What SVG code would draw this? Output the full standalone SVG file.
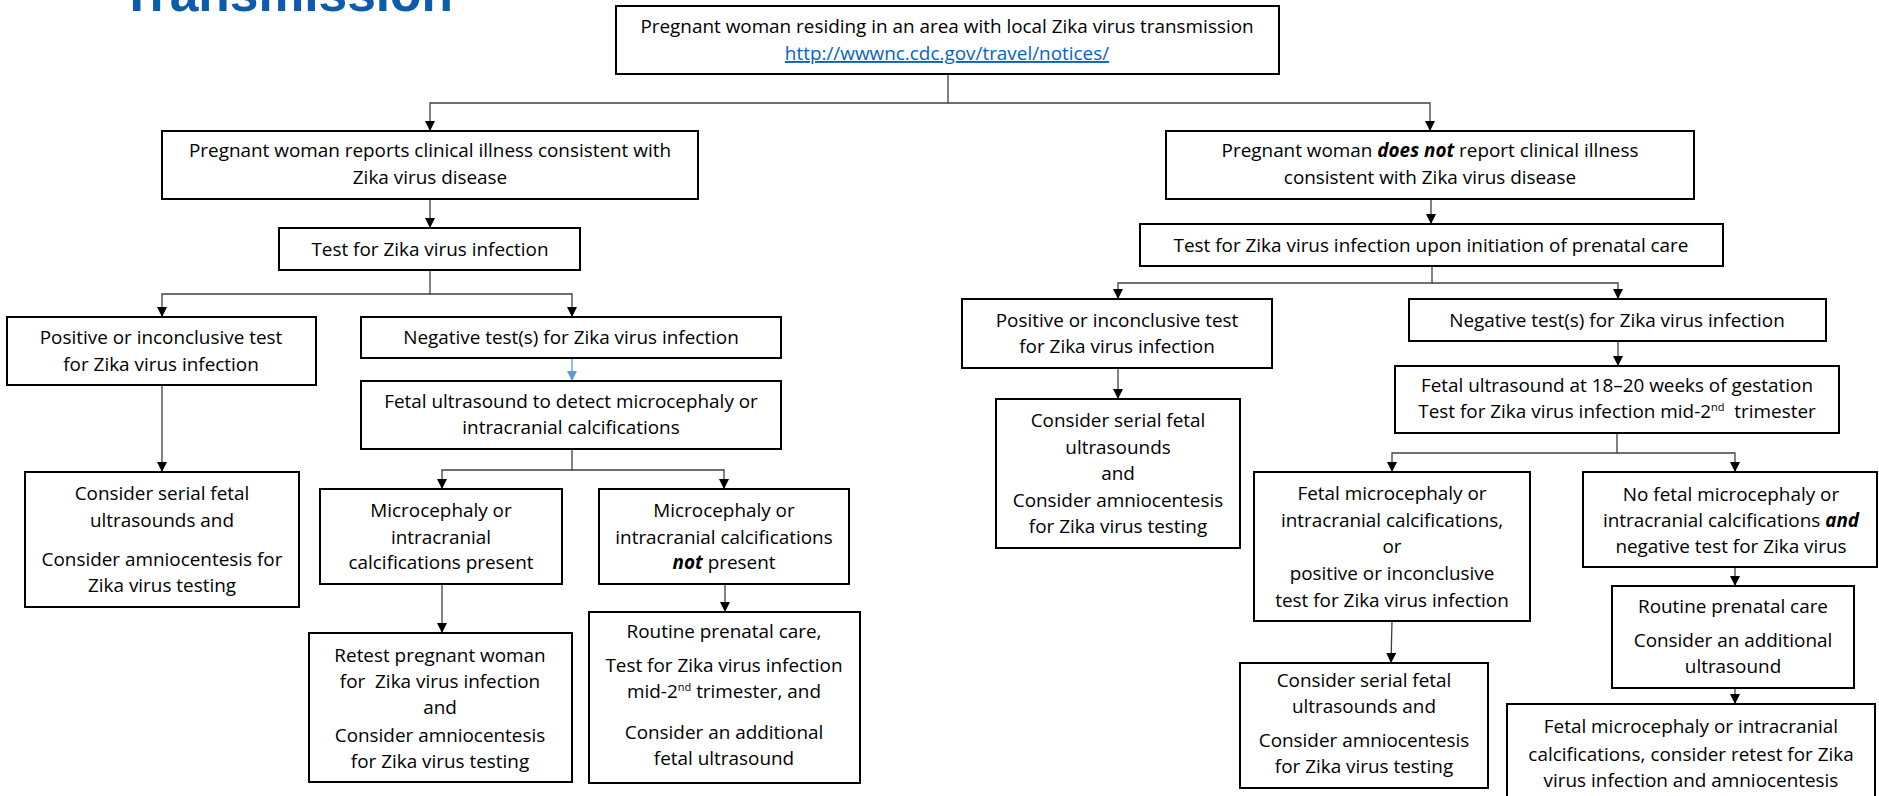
<svg xmlns="http://www.w3.org/2000/svg" width="1879" height="796" viewBox="0 0 1879 796">
<style>
.bx{fill:#fff;stroke:#000;stroke-width:2}
.t{font-family:"Open Sans","Liberation Sans",sans-serif;font-size:18.9px;fill:#000;text-anchor:middle}
.bi{font-weight:bold;font-style:italic}
.c{fill:none;stroke:#404040;stroke-width:1.3}
.sup{font-size:11px}
</style>
<defs>
<marker id="ah" markerUnits="userSpaceOnUse" markerWidth="10" markerHeight="10" refX="10" refY="5" orient="auto" viewBox="0 0 10 10"><path d="M0,0 L10,5 L0,10 z" fill="#000"/></marker>
<marker id="ahb" markerUnits="userSpaceOnUse" markerWidth="10" markerHeight="10" refX="10" refY="5" orient="auto" viewBox="0 0 10 10"><path d="M0,0 L10,5 L0,10 z" fill="#5B9BD5"/></marker>
</defs>
<rect width="1879" height="796" fill="#fff"/>
<text x="121" y="11" font-family="Liberation Sans,Arial,sans-serif" font-weight="bold" font-size="51.5" fill="#0B5CAD">Transmission</text>

<g id="connectors">
<path class="c" d="M948 74 V103 H430 V131" marker-end="url(#ah)"/>
<path class="c" d="M948 103 H1430 V131" marker-end="url(#ah)"/>
<path class="c" d="M430 199 V228" marker-end="url(#ah)"/>
<path class="c" d="M1431 199 V224" marker-end="url(#ah)"/>
<path class="c" d="M430 270 V294 H162 V317" marker-end="url(#ah)"/>
<path class="c" d="M430 294 H572 V317" marker-end="url(#ah)"/>
<path class="c" d="M1432 266 V283 H1118 V299" marker-end="url(#ah)"/>
<path class="c" d="M1432 283 H1618 V299" marker-end="url(#ah)"/>
<path class="c" d="M162 385 V472" marker-end="url(#ah)"/>
<path fill="none" stroke="#5B9BD5" stroke-width="1.3" d="M572 358 V381" marker-end="url(#ahb)"/>
<path class="c" d="M572 449 V470 H442 V489" marker-end="url(#ah)"/>
<path class="c" d="M572 470 H724 V489" marker-end="url(#ah)"/>
<path class="c" d="M442 584 V633" marker-end="url(#ah)"/>
<path class="c" d="M725 584 V612" marker-end="url(#ah)"/>
<path class="c" d="M1118 368 V399" marker-end="url(#ah)"/>
<path class="c" d="M1618 341 V366" marker-end="url(#ah)"/>
<path class="c" d="M1617 433 V453 H1392 V472" marker-end="url(#ah)"/>
<path class="c" d="M1617 453 H1735 V472" marker-end="url(#ah)"/>
<path class="c" d="M1392 621 L1391 663" marker-end="url(#ah)"/>
<path class="c" d="M1735 567 V586" marker-end="url(#ah)"/>
<path class="c" d="M1735 688 V704" marker-end="url(#ah)"/>
</g>

<g id="n-top">
<rect class="bx" x="616" y="6" width="663" height="68"/>
<text class="t" x="947" y="33">Pregnant woman residing in an area with local Zika virus transmission</text>
<text class="t" x="947" y="60" fill="#0563C1" style="fill:#0563C1" text-decoration="underline">http://wwwnc.cdc.gov/travel/notices/</text>
</g>

<g id="n-reports">
<rect class="bx" x="162" y="131" width="536" height="68"/>
<text class="t" x="430" y="157">Pregnant woman reports clinical illness consistent with</text>
<text class="t" x="430" y="184">Zika virus disease</text>
</g>

<g id="n-notreport">
<rect class="bx" x="1166" y="131" width="528" height="68"/>
<text class="t" x="1430" y="157">Pregnant woman <tspan class="bi">does not</tspan> report clinical illness</text>
<text class="t" x="1430" y="184">consistent with Zika virus disease</text>
</g>

<g id="n-testL">
<rect class="bx" x="279" y="228" width="301" height="42"/>
<text class="t" x="430" y="256">Test for Zika virus infection</text>
</g>

<g id="n-testR">
<rect class="bx" x="1140" y="224" width="583" height="42"/>
<text class="t" x="1431" y="252">Test for Zika virus infection upon initiation of prenatal care</text>
</g>

<g id="n-posL">
<rect class="bx" x="7" y="317" width="309" height="68"/>
<text class="t" x="161" y="344">Positive or inconclusive test</text>
<text class="t" x="161" y="371">for Zika virus infection</text>
</g>

<g id="n-negL">
<rect class="bx" x="361" y="317" width="420" height="41"/>
<text class="t" x="571" y="344">Negative test(s) for Zika virus infection</text>
</g>

<g id="n-fetalL">
<rect class="bx" x="361" y="381" width="420" height="68"/>
<text class="t" x="571" y="408">Fetal ultrasound to detect microcephaly or</text>
<text class="t" x="571" y="434">intracranial calcifications</text>
</g>

<g id="n-considerL">
<rect class="bx" x="25" y="472" width="274" height="135"/>
<text class="t" x="162" y="500">Consider serial fetal</text>
<text class="t" x="162" y="527">ultrasounds and</text>
<text class="t" x="162" y="566">Consider amniocentesis for</text>
<text class="t" x="162" y="592">Zika virus testing</text>
</g>

<g id="n-microPresent">
<rect class="bx" x="320" y="489" width="242" height="95"/>
<text class="t" x="441" y="517">Microcephaly or</text>
<text class="t" x="441" y="544">intracranial</text>
<text class="t" x="441" y="569">calcifications present</text>
</g>

<g id="n-microNot">
<rect class="bx" x="599" y="489" width="250" height="95"/>
<text class="t" x="724" y="517">Microcephaly or</text>
<text class="t" x="724" y="544">intracranial calcifications</text>
<text class="t" x="724" y="569"><tspan class="bi">not</tspan> present</text>
</g>

<g id="n-retest">
<rect class="bx" x="309" y="633" width="263" height="149"/>
<text class="t" x="440" y="662">Retest pregnant woman</text>
<text class="t" x="440" y="688" xml:space="preserve">for  Zika virus infection</text>
<text class="t" x="440" y="714">and</text>
<text class="t" x="440" y="742">Consider amniocentesis</text>
<text class="t" x="440" y="768">for Zika virus testing</text>
</g>

<g id="n-routineL">
<rect class="bx" x="589" y="612" width="271" height="171"/>
<text class="t" x="724" y="638">Routine prenatal care,</text>
<text class="t" x="724" y="672">Test for Zika virus infection</text>
<text class="t" x="724" y="698">mid-2<tspan class="sup" dy="-7">nd</tspan><tspan dy="7"> trimester, and</tspan></text>
<text class="t" x="724" y="739">Consider an additional</text>
<text class="t" x="724" y="765">fetal ultrasound</text>
</g>

<g id="n-posR">
<rect class="bx" x="962" y="299" width="310" height="69"/>
<text class="t" x="1117" y="327">Positive or inconclusive test</text>
<text class="t" x="1117" y="353">for Zika virus infection</text>
</g>

<g id="n-negR">
<rect class="bx" x="1409" y="299" width="417" height="42"/>
<text class="t" x="1617" y="327">Negative test(s) for Zika virus infection</text>
</g>

<g id="n-considerR">
<rect class="bx" x="996" y="399" width="244" height="149"/>
<text class="t" x="1118" y="427">Consider serial fetal</text>
<text class="t" x="1118" y="454">ultrasounds</text>
<text class="t" x="1118" y="480">and</text>
<text class="t" x="1118" y="507">Consider amniocentesis</text>
<text class="t" x="1118" y="533">for Zika virus testing</text>
</g>

<g id="n-fetalR">
<rect class="bx" x="1395" y="366" width="444" height="67"/>
<text class="t" x="1617" y="392">Fetal ultrasound at 18–20 weeks of gestation</text>
<text class="t" x="1617" y="418" xml:space="preserve">Test for Zika virus infection mid-2<tspan class="sup" dy="-7">nd</tspan><tspan dy="7">  trimester</tspan></text>
</g>

<g id="n-fetalMicro">
<rect class="bx" x="1254" y="472" width="276" height="149"/>
<text class="t" x="1392" y="500">Fetal microcephaly or</text>
<text class="t" x="1392" y="527">intracranial calcifications,</text>
<text class="t" x="1392" y="553">or</text>
<text class="t" x="1392" y="580">positive or inconclusive</text>
<text class="t" x="1392" y="607">test for Zika virus infection</text>
</g>

<g id="n-noFetal">
<rect class="bx" x="1583" y="472" width="294" height="95"/>
<text class="t" x="1731" y="501">No fetal microcephaly or</text>
<text class="t" x="1731" y="527">intracranial calcifications <tspan class="bi">and</tspan></text>
<text class="t" x="1731" y="553">negative test for Zika virus</text>
</g>

<g id="n-considerR2">
<rect class="bx" x="1240" y="663" width="248" height="125"/>
<text class="t" x="1364" y="687">Consider serial fetal</text>
<text class="t" x="1364" y="713">ultrasounds and</text>
<text class="t" x="1364" y="747">Consider amniocentesis</text>
<text class="t" x="1364" y="773">for Zika virus testing</text>
</g>

<g id="n-routineR">
<rect class="bx" x="1612" y="586" width="242" height="102"/>
<text class="t" x="1733" y="613">Routine prenatal care</text>
<text class="t" x="1733" y="647">Consider an additional</text>
<text class="t" x="1733" y="673">ultrasound</text>
</g>

<g id="n-bottom">
<rect class="bx" x="1507" y="704" width="368" height="100"/>
<text class="t" x="1691" y="733">Fetal microcephaly or intracranial</text>
<text class="t" x="1691" y="761">calcifications, consider retest for Zika</text>
<text class="t" x="1691" y="787">virus infection and amniocentesis</text>
</g>
</svg>
